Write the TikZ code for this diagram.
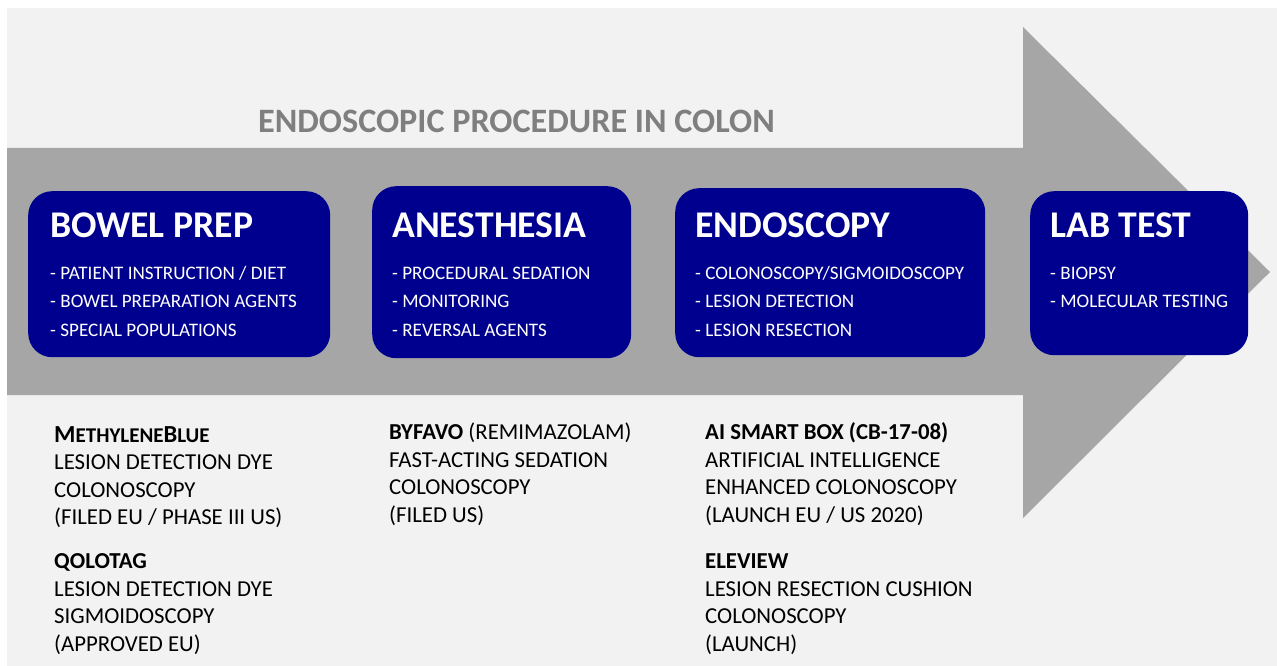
\documentclass[tikz,border=0pt]{standalone}
\usepackage{fontspec}
\setmainfont{Carlito}
\usetikzlibrary{positioning}

\definecolor{paper}{HTML}{F2F2F2}
\definecolor{flowgrey}{HTML}{A6A6A6}
\definecolor{headgrey}{HTML}{7F7F7F}
\definecolor{stageblue}{RGB}{0,0,142}

\newcommand{\fullcap}[1]{{\fontsize{24.5}{27.5}\selectfont #1}}
\newcommand{\fakesc}[1]{{\fontsize{21}{27.5}\selectfont #1}}

\begin{document}
\begin{tikzpicture}[
    x=1pt, y=-1pt,
    stagebox/.style={fill=stageblue, rounded corners=24pt, anchor=north west, inner sep=0pt},
    stagetitle/.style={anchor=base west, inner sep=0pt, text=white, font=\fontsize{37.7}{40}\selectfont\bfseries},
    stageitems/.style={anchor=base west, inner sep=0pt, text=white, align=left, font=\fontsize{19.1}{28.5}\selectfont},
    drug/.style={anchor=base west, inner sep=0pt, text=black, align=left, font=\fontsize{22.8}{27.5}\selectfont}
]
    % page and the big process arrow
    \useasboundingbox (0,0) rectangle (1277,666);
    \fill[paper] (7,8) rectangle (1277,666);
    \fill[flowgrey] (7,148) -- (1023,148) -- (1023,27) -- (1270,272)
        -- (1023,518) -- (1023,395) -- (7,395) -- cycle;

    \node (head) [anchor=base west, inner sep=0pt, text=headgrey,
        font=\fontsize{34.2}{36}\selectfont\bfseries] at (258,132) {ENDOSCOPIC PROCEDURE IN COLON};

    % stages
    \node (bowel) [stagebox, minimum width=302pt, minimum height=166pt] at (28,191) {};
    \node (anest) [stagebox, minimum width=259pt, minimum height=172pt] at (372,186) {};
    \node (endo)  [stagebox, minimum width=310pt, minimum height=169pt] at (675,188) {};
    \node (lab)   [stagebox, minimum width=218pt, minimum height=164pt] at (1030,191) {};

    \node (bowelT) [stagetitle] at (50,237)   {BOWEL PREP};
    \node (anestT) [stagetitle] at (392,237)  {ANESTHESIA};
    \node (endoT)  [stagetitle] at (695,237)  {ENDOSCOPY};
    \node (labT)   [stagetitle] at (1050,237) {LAB TEST};

    % (base of a list node = its last line)
    \node (bowelL) [stageitems] at (50,336)
        {- PATIENT INSTRUCTION / DIET\\- BOWEL PREPARATION AGENTS\\- SPECIAL POPULATIONS};
    \node (anestL) [stageitems] at (392,336)
        {- PROCEDURAL SEDATION\\- MONITORING\\- REVERSAL AGENTS};
    \node (endoL)  [stageitems] at (695,336)
        {- COLONOSCOPY/SIGMOIDOSCOPY\\- LESION DETECTION\\- LESION RESECTION};
    \node (labL)   [stageitems] at (1050,307.5)
        {- BIOPSY\\- MOLECULAR TESTING};

    % products under the arrow
    \node (mblue) [drug] at (54,524.5)
        {\textbf{\fullcap{M}\fakesc{ETHYLENE}\fullcap{B}\fakesc{LUE}}\\LESION DETECTION DYE\\COLONOSCOPY\\(FILED EU / PHASE III US)};
    \node (qolo)  [drug] at (54,651)
        {\textbf{QOLOTAG}\\LESION DETECTION DYE\\SIGMOIDOSCOPY\\(APPROVED EU)};
    \node (byfavo) [drug] at (389,522)
        {\textbf{BYFAVO} (REMIMAZOLAM)\\FAST-ACTING SEDATION\\COLONOSCOPY\\(FILED US)};
    \node (aibox) [drug] at (705,522)
        {\textbf{AI SMART BOX (CB-17-08)}\\ARTIFICIAL INTELLIGENCE\\ENHANCED COLONOSCOPY\\(LAUNCH EU / US 2020)};
    \node (elev)  [drug] at (705,651)
        {\textbf{ELEVIEW}\\LESION RESECTION CUSHION\\COLONOSCOPY\\(LAUNCH)};
\end{tikzpicture}
\end{document}
